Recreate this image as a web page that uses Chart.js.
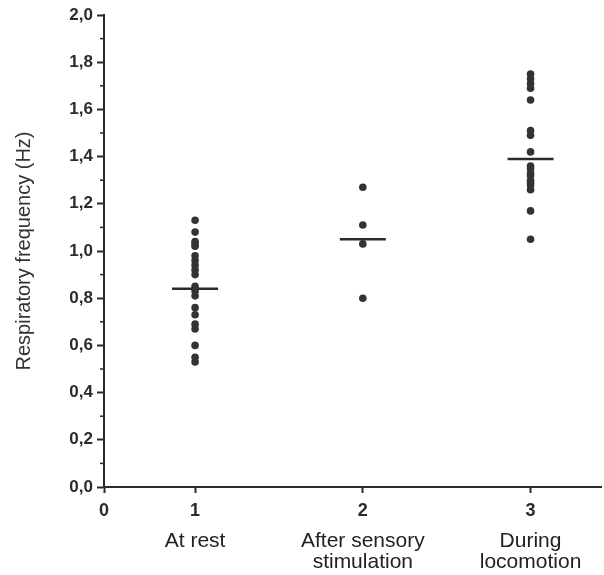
<!DOCTYPE html>
<html>
<head>
<meta charset="utf-8">
<script src="https://cdn.jsdelivr.net/npm/chart.js@4/dist/chart.umd.min.js"></script>
<style>
  html, body { margin: 0; padding: 0; background: #fff; }
  #wrap { width: 604px; height: 575px; }
</style>
</head>
<body>
<div id="wrap"><canvas id="dotplot"></canvas></div>
<script>
// groups on the x axis
const groupPos = [1, 2, 3];
const groupNames = [["At rest"], ["After sensory", "stimulation"], ["During", "locomotion"]];

// respiratory frequency (Hz), one value per animal
const restValues = [1.13, 1.08, 1.04, 1.03, 1.02, 0.98, 0.96, 0.94, 0.92, 0.90, 0.85, 0.83,
  0.81, 0.76, 0.73, 0.69, 0.67, 0.60, 0.55, 0.53];
const sensoryValues = [1.27, 1.11, 1.03, 0.80];
const locomotionValues = [1.75, 1.73, 1.71, 1.69, 1.64, 1.51, 1.49, 1.42, 1.36, 1.35, 1.33,
  1.32, 1.30, 1.29, 1.28, 1.26, 1.17, 1.05];
const meanValues = [0.84, 1.05, 1.39];

const yTicks = [0, 0.2, 0.4, 0.6, 0.8, 1.0, 1.2, 1.4, 1.6, 1.8, 2.0];
const yMinor = [0.1, 0.3, 0.5, 0.7, 0.9, 1.1, 1.3, 1.5, 1.7, 1.9];

const xMin = 0.457, xMax = 3.42;
const ink = "#2b2b2b";

function column(x, values) {
  return values.map(v => ({ x: x, y: v }));
}

// short minor ticks on the y axis
const minorTicks = {
  id: "minorTicks",
  afterDraw(chart) {
    const y = chart.scales.y;
    const ctx = chart.ctx;
    ctx.save();
    ctx.strokeStyle = ink;
    ctx.lineWidth = 1.5;
    yMinor.forEach(v => {
      const py = y.getPixelForValue(v);
      ctx.beginPath();
      ctx.moveTo(y.right - 4, py);
      ctx.lineTo(y.right, py);
      ctx.stroke();
    });
    ctx.restore();
  }
};

new Chart("dotplot", {
  type: "scatter",
  data: {
    datasets: [
      { data: column(groupPos[0], restValues) },
      { data: column(groupPos[1], sensoryValues) },
      { data: column(groupPos[2], locomotionValues) },
      {
        data: groupPos.map((x, i) => ({ x: x, y: meanValues[i] })),
        pointStyle: "line",
        pointRadius: 23,
        borderWidth: 2.5,
        borderColor: ink
      }
    ]
  },
  options: {
    responsive: true,
    maintainAspectRatio: false,
    animation: false,
    layout: { autoPadding: false, padding: { left: 4, top: 15, right: 3, bottom: 0 } },
    elements: {
      point: { radius: 3.8, backgroundColor: "#333", borderColor: "#333", borderWidth: 0 }
    },
    plugins: { legend: { display: false }, tooltip: { enabled: false } },
    scales: {
      x: {
        type: "linear",
        min: xMin,
        max: xMax,
        afterBuildTicks: s => { s.ticks = [xMin].concat(groupPos).map(v => ({ value: v })); },
        afterFit: s => { s.height = 38; },
        ticks: {
          padding: 7,
          color: ink,
          font: { family: "Liberation Sans", size: 18, weight: "bold" },
          callback: v => (v === xMin ? "0" : String(v))
        },
        grid: { drawOnChartArea: false, tickLength: 6, tickColor: ink, tickWidth: 2 },
        border: { color: ink, width: 2 }
      },
      names: {
        type: "linear",
        position: "bottom",
        min: xMin,
        max: xMax,
        afterBuildTicks: s => { s.ticks = groupPos.map(v => ({ value: v })); },
        afterFit: s => { s.height = 50; },
        ticks: {
          padding: -3,
          color: "#222",
          font: { family: "Liberation Sans", size: 21, lineHeight: 1.02 },
          callback: v => groupNames[groupPos.indexOf(v)]
        },
        grid: { display: false },
        border: { display: false }
      },
      y: {
        min: 0,
        max: 2,
        afterBuildTicks: s => { s.ticks = yTicks.map(v => ({ value: v })); },
        afterFit: s => { s.width = 100; },
        ticks: {
          padding: 4,
          color: ink,
          font: { family: "Liberation Sans", size: 17, weight: "bold" },
          callback: v => v.toFixed(1).replace(".", ",")
        },
        grid: { drawOnChartArea: false, tickLength: 7, tickColor: ink, tickWidth: 2 },
        border: { color: ink, width: 2 },
        title: {
          display: true,
          text: "Respiratory frequency (Hz)",
          color: "#333",
          font: { family: "Liberation Sans", size: 20 },
          padding: { top: 8, bottom: 0 }
        }
      }
    }
  },
  plugins: [minorTicks]
});
</script>
</body>
</html>
